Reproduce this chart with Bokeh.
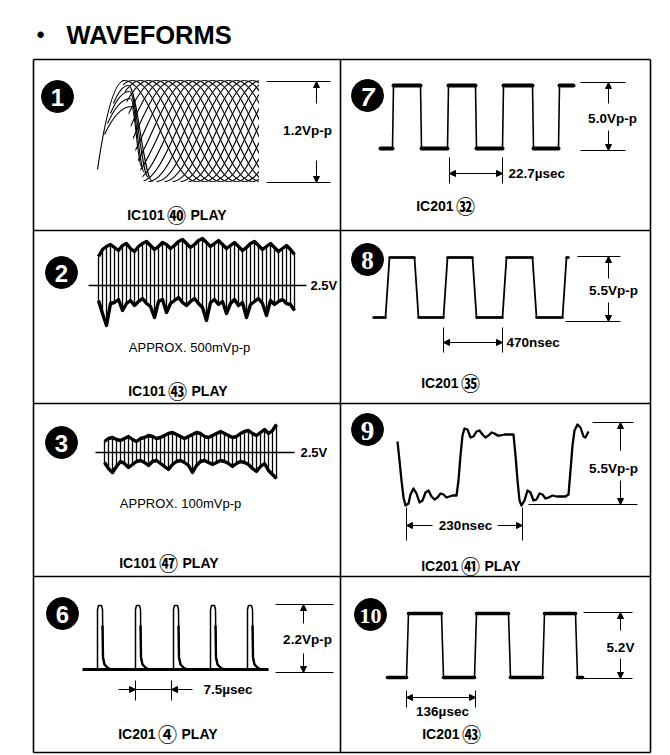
from bokeh.plotting import figure
from bokeh.models import Range1d, Arrow, NormalHead
from bokeh.core.properties import value
from bokeh.embed import file_html
from bokeh.resources import INLINE

# ---------------- texts ----------------
title = "WAVEFORMS"
badge_text = ["1", "2", "3", "6", "7", "8", "9", "10"]
chip = ["IC101", "IC101", "IC101", "IC201", "IC201", "IC201", "IC201", "IC201"]
pin = ["㊵", "㊸", "㊼", "④", "㉜", "㉟", "㊶", "㊸"]
mode = ["PLAY", "PLAY", "PLAY", "PLAY", "", "", "PLAY", ""]
amp_text = ["1.2Vp-p", "5.0Vp-p", "5.5Vp-p", "5.5Vp-p", "2.2Vp-p", "5.2V"]
time_text = ["22.7µsec", "470nsec", "230nsec", "7.5µsec", "136µsec"]
dc_text = ["2.5V", "2.5V"]
approx_text = ["APPROX. 500mVp-p", "APPROX. 100mVp-p"]

# ---------------- waveform values (screen units of the scope photo) ----------------
# panel 1 : overlapping sweeps (first crest of each sweep, half period, levels)
mesh_peak_x = [124, 132, 140, 148, 156, 164, 172, 180, 188, 196, 204, 212, 220, 228, 236, 244, 252, 260]
mesh_half = 72
mesh_hi, mesh_lo, mesh_end = 80, 181, 258
mesh_lead = [(97, 169), (124, 80)]
mesh_fan = [((113, 103), (128, 85), (152, 181)), ((110, 113), (129, 91), (148, 177)),
            ((107, 123), (130, 98), (144, 172)), ((104, 134), (131, 106), (141, 166))]

# panel 2 : noisy signal envelope
noise2_x = list(range(98, 295, 4))
noise2_top = [256, 249, 246, 244, 247, 250, 245, 243, 248, 251,
              246, 243, 241, 245, 249, 246, 242, 244, 248, 245,
              241, 239, 243, 247, 244, 240, 238, 242, 246, 243,
              240, 244, 248, 245, 242, 246, 250, 247, 243, 241,
              245, 249, 246, 243, 247, 251, 248, 245, 249, 254]
noise2_bot = [300, 313, 325, 303, 302, 299, 310, 303, 300, 305,
              301, 298, 303, 306, 317, 301, 299, 312, 303, 300,
              297, 302, 305, 301, 298, 303, 307, 320, 302, 299,
              304, 301, 313, 303, 299, 305, 302, 317, 304, 301,
              298, 303, 315, 300, 304, 301, 299, 303, 304, 310]
noise2_dc = 285

# panel 3
noise3_x = list(range(104, 277, 4))
noise3_top = [441, 438, 437, 439, 440, 438, 436, 439, 441, 438,
              437, 435, 436, 438, 437, 435, 433, 432, 434, 436,
              438, 436, 434, 432, 433, 436, 437, 435, 433, 431,
              433, 435, 437, 436, 433, 431, 430, 433, 435, 432,
              429, 433, 430, 424]
noise3_bot = [462, 468, 472, 466, 461, 463, 467, 464, 461, 460,
              462, 465, 461, 460, 463, 466, 469, 464, 461, 460,
              462, 465, 472, 465, 461, 460, 462, 464, 462, 460,
              461, 463, 466, 463, 461, 462, 464, 468, 471, 466,
              463, 470, 474, 478]
noise3_dc = 452

# panel 6 : pulse train
pulse_x = [97, 135, 173, 210, 247]
pulse_base, pulse_top = 669, 605
pulse_start, pulse_end = 82, 268

# panel 7 : square wave
sq7_edges = [392, 420, 447, 475, 502, 532, 558]
sq7_start, sq7_end, sq7_lo, sq7_hi = 380, 573, 148, 85
# panel 8
sq8_edges = [385, 414, 443, 472, 502, 532, 562]
sq8_start, sq8_end, sq8_lo, sq8_hi = 373, 568, 317, 257
# panel 10
sq10_edges = [406, 441, 474, 508, 542, 575]
sq10_start, sq10_end, sq10_lo, sq10_hi = 387, 582, 677, 613

# panel 9 : ringing square wave
ring_trace = [(397, 441), (399, 460), (401, 480), (403, 497), (405, 505), (408, 503), (410, 494),
              (413, 488), (416, 493), (419, 502), (422, 500), (425, 492), (428, 490), (431, 496),
              (434, 499), (437, 497), (440, 493), (443, 494), (446, 497), (449, 496), (452, 495),
              (456, 495), (458, 480), (460, 455), (462, 435), (464, 428), (467, 429), (470, 437),
              (473, 436), (476, 431), (479, 430), (482, 434), (485, 437), (488, 435), (491, 432),
              (494, 433), (497, 435), (500, 435), (504, 434), (508, 434), (513, 434), (515, 455),
              (517, 480), (519, 500), (521, 505), (524, 500), (527, 490), (530, 492), (533, 500),
              (536, 499), (539, 493), (542, 494), (545, 498), (548, 497), (552, 495), (556, 496),
              (560, 496), (565, 496), (568, 494), (570, 470), (572, 445), (574, 430), (577, 424),
              (580, 427), (583, 436), (585, 437), (588, 431)]

# ---------------- figure ----------------
W, H = 670, 755
p = figure(width=W, height=H, x_range=Range1d(0, W), y_range=Range1d(H, 0),
           output_backend="svg", toolbar_location=None, min_border=0,
           x_axis_location=None, y_axis_location=None)
p.grid.visible = False
p.outline_line_color = None
p.background_fill_color = "white"
p.border_fill_color = "white"

K = "black"
SANS = value("Liberation Sans")
SERIF = value("Liberation Serif")
CJK = value("Noto Sans CJK JP")


def txt(x, y, s, size, font=SANS, style="bold", align="center", color=K):
    p.text(x=[x], y=[y], text=[s], text_font=font, text_font_size=f"{size}px",
           text_font_style=style, text_align=align, text_baseline="middle", text_color=color)


# title
txt(40, 34, "•", 22)
txt(66, 34, title, 25.5, align="left")

# frame
FL, FR, FT, FB, FM = 33, 650, 59, 752, 340
rows = [230, 403, 576]
p.segment(x0=[FL, FL, FL, FR, FM] + [FL] * 3, y0=[FT, FB, FT, FT, FT] + rows,
          x1=[FR, FR, FL, FR, FM] + [FR] * 3, y1=[FT, FB, FB, FB, FB] + rows,
          line_color=K, line_width=1.6)


# ---- panel 1 mesh
def new_bz():
    return {k: [] for k in ["x0", "y0", "x1", "y1", "cx0", "cy0", "cx1", "cy1"]}


def add_bz(bz, a, b, c, d):
    bz["x0"].append(a[0]); bz["y0"].append(a[1])
    bz["cx0"].append(b[0]); bz["cy0"].append(b[1])
    bz["cx1"].append(c[0]); bz["cy1"].append(c[1])
    bz["x1"].append(d[0]); bz["y1"].append(d[1])


def half_wave(bz, a, b):
    c = 0.3634 * (b[0] - a[0])
    add_bz(bz, a, (a[0] + c, a[1]), (b[0] - c, b[1]), b)


def lead_in(bz, a, b):
    dx, dy = b[0] - a[0], a[1] - b[1]
    add_bz(bz, a, (a[0] + 0.3 * dx, a[1] - 0.62 * dy), (b[0] - 0.38 * dx, b[1]), b)


bz = new_bz()
for X in mesh_peak_x:
    x, y = X - mesh_half, mesh_lo
    while x < mesh_end + 2:
        ny = mesh_hi if y == mesh_lo else mesh_lo
        half_wave(bz, (x, y), (x + mesh_half, ny))
        x, y = x + mesh_half, ny
p.bezier(line_color=K, line_width=1.15, **bz)
# blank out the part of the sweeps before the trigger and after the screen edge
p.patch([36, 122, 122, 126, 130, 135, 140, 146, 36], [70, 70, 82, 100, 125, 150, 170, 190, 190],
        fill_color="white", line_color=None)
p.quad(left=[mesh_end + 0.5], right=[336], top=[70], bottom=[196], fill_color="white", line_color=None)
bz2 = new_bz()
lead_in(bz2, mesh_lead[0], mesh_lead[1])
for s, pk, en in mesh_fan:
    lead_in(bz2, s, pk)
    half_wave(bz2, pk, en)
p.bezier(line_color=K, line_width=1.15, **bz2)

# ---- panels 2 & 3 noise
for xs, top, bot, dc, x0, x1 in [(noise2_x, noise2_top, noise2_bot, noise2_dc, 88, 306),
                                  (noise3_x, noise3_top, noise3_bot, noise3_dc, 95, 294)]:
    p.segment(x0=xs, y0=top, x1=xs, y1=bot, line_color=K, line_width=1.3)
    p.line(xs, top, line_color=K, line_width=3.4, line_join="round")
    p.line(xs, bot, line_color=K, line_width=3.4, line_join="round")
    p.segment(x0=[x0], y0=[dc], x1=[x1], y1=[dc], line_color=K, line_width=1.4)
txt(310, noise2_dc, dc_text[0], 13, align="left")
txt(300, noise3_dc, dc_text[1], 13, align="left")
txt(189, 347, approx_text[0], 13, style="normal")
txt(180, 503, approx_text[1], 13, style="normal")

# ---- panel 6 pulses
p.segment(x0=[pulse_start], y0=[pulse_base], x1=[pulse_end], y1=[pulse_base], line_color=K, line_width=3)
for x in pulse_x:
    p.line([x, x, x + 1, x + 4, x + 5, x + 5.5, x + 7, x + 10, x + 15],
           [pulse_base, pulse_top + 4, pulse_top, pulse_top, pulse_top + 4, pulse_base - 12,
            pulse_base - 5, pulse_base - 2, pulse_base],
           line_color=K, line_width=1.5, line_join="round")
    p.line([x + 5, x + 5.5, x + 7, x + 10], [pulse_top + 20, pulse_base - 12, pulse_base - 5, pulse_base - 2],
           line_color=K, line_width=2.4, line_join="round")


# ---- square waves
def step_path(start, edges, end, lo, hi, slant):
    xs, ys, lvl = [start], [lo], lo
    for e in edges:
        xs.append(e); ys.append(lvl)
        lvl = hi if lvl == lo else lo
        xs.append(e + slant); ys.append(lvl)
    xs.append(end); ys.append(lvl)
    return xs, ys


for edges, st, en, lo, hi, sl, lw_v, lw_h in [
        (sq7_edges, sq7_start, sq7_end, sq7_lo, sq7_hi, 1, 1.6, 4.0),
        (sq8_edges, sq8_start, sq8_end, sq8_lo, sq8_hi, 4, 1.8, 2.4),
        (sq10_edges, sq10_start, sq10_end, sq10_lo, sq10_hi, 2, 1.6, 3.6)]:
    xs, ys = step_path(st, edges, en, lo, hi, sl)
    p.line(xs, ys, line_color=K, line_width=lw_v, line_join="round")
    hx0 = [xs[i] for i in range(0, len(xs), 2)]
    hx1 = [xs[i + 1] for i in range(0, len(xs) - 1, 2)]
    hy = [ys[i] for i in range(0, len(xs), 2)]
    p.segment(x0=hx0, y0=hy, x1=hx1, y1=hy, line_color=K, line_width=lw_h, line_cap="round")

# ---- panel 9 ringing
p.line([a for a, b in ring_trace], [b for a, b in ring_trace], line_color=K, line_width=2.3, line_join="round")

# ---- dimension marks
vdims = [  # arrow x, top y, bottom y, top line x0,x1, bottom line x0,x1, arrow gap, label pos
    (316, 81, 182, 266, 330, 266, 330, 103, 160, 307, 130),
    (608, 82, 150, 580, 625, 580, 625, 103, 130, 612, 118),
    (608, 256, 321, 577, 620, 565, 620, 278, 302, 613, 290),
    (620, 422, 504, 592, 633, 528, 637, 450, 480, 613, 468),
    (303, 604, 672, 275, 333, 275, 333, 623, 653, 307, 639),
    (620, 612, 678, 583, 632, 583, 632, 630, 658, 620, 647),
]
for i, (ax, yt, yb, tx0, tx1, bx0, bx1, g1, g2, lx, ly) in enumerate(vdims):
    p.segment(x0=[tx0, bx0], y0=[yt, yb], x1=[tx1, bx1], y1=[yt, yb], line_color=K, line_width=1)
    for ys, ye in [(g1, yt), (g2, yb)]:
        p.add_layout(Arrow(end=NormalHead(size=6, fill_color=K, line_color=K, line_width=1),
                           x_start=ax, y_start=ys, x_end=ax, y_end=ye, line_color=K, line_width=1))
    txt(lx, ly, amp_text[i], 13.5)

hdims = [  # tick x0, tick x1, tick top, tick bottom, arrow y, style, label x, label y, label align
    (449, 502, 157, 183, 173, "out", 508, 173, "left"),
    (443, 502, 327, 352, 342, "out", 506, 342, "left"),
    (406, 522, 507, 540, 525, "split", 465, 525, "center"),
    (135, 171, 680, 700, 689, "in", 203, 689, "left"),
    (406, 475, 690, 707, 697, "out", 442, 711, "center"),
]
for i, (t0, t1, ty0, ty1, ay, style, lx, ly, al) in enumerate(hdims):
    p.segment(x0=[t0, t1], y0=[ty0, ty0], x1=[t0, t1], y1=[ty1, ty1], line_color=K, line_width=1)
    if style == "out":
        p.add_layout(Arrow(start=NormalHead(size=6, fill_color=K, line_color=K),
                           end=NormalHead(size=6, fill_color=K, line_color=K),
                           x_start=t0, y_start=ay, x_end=t1, y_end=ay, line_color=K, line_width=1))
    elif style == "split":
        for xs_, xe_ in [(t0 + 26, t0), (t1 - 25, t1)]:
            p.add_layout(Arrow(end=NormalHead(size=6, fill_color=K, line_color=K),
                               x_start=xs_, y_start=ay, x_end=xe_, y_end=ay, line_color=K, line_width=1))
    else:
        for xs_, xe_ in [(t0 - 17, t0), (t1 + 21, t1)]:
            p.add_layout(Arrow(end=NormalHead(size=6, fill_color=K, line_color=K),
                               x_start=xs_, y_start=ay, x_end=xe_, y_end=ay, line_color=K, line_width=1))
        p.segment(x0=[t0], y0=[ay], x1=[t1], y1=[ay], line_color=K, line_width=1)
    txt(lx, ly, time_text[i], 13.5, align=al)

# ---- badges (filled circles with numbers)
badge_x = [57, 61, 61, 62, 367, 367, 367, 370]
badge_y = [96, 272, 442, 613, 95, 259, 429, 614]
badge_font = [SANS, SANS, SANS, SANS, SANS, SERIF, SERIF, SERIF]
badge_style = ["bold", "bold", "bold", "bold", "bold italic", "bold", "bold", "bold"]
badge_size = [24, 24, 24, 24, 25, 25, 27, 22]
p.circle(x=badge_x, y=badge_y, radius=16, fill_color=K, line_color=K)
for i, s in enumerate(badge_text):
    txt(badge_x[i], badge_y[i] + 1, s, badge_size[i], font=badge_font[i], style=badge_style[i], color="white")

# ---- captions
pin_x = [176, 177, 168, 167, 465, 470, 470, 471]
cap_y = [214, 390, 562, 733, 205, 382, 565, 733]
for i in range(len(chip)):
    txt(pin_x[i] - 12, cap_y[i], chip[i], 14, align="right")
    txt(pin_x[i], cap_y[i], pin[i], 19, font=CJK)
    if mode[i]:
        txt(pin_x[i] + 14, cap_y[i], mode[i], 14, align="left")

open("out.html", "w").write(file_html(p, INLINE))
